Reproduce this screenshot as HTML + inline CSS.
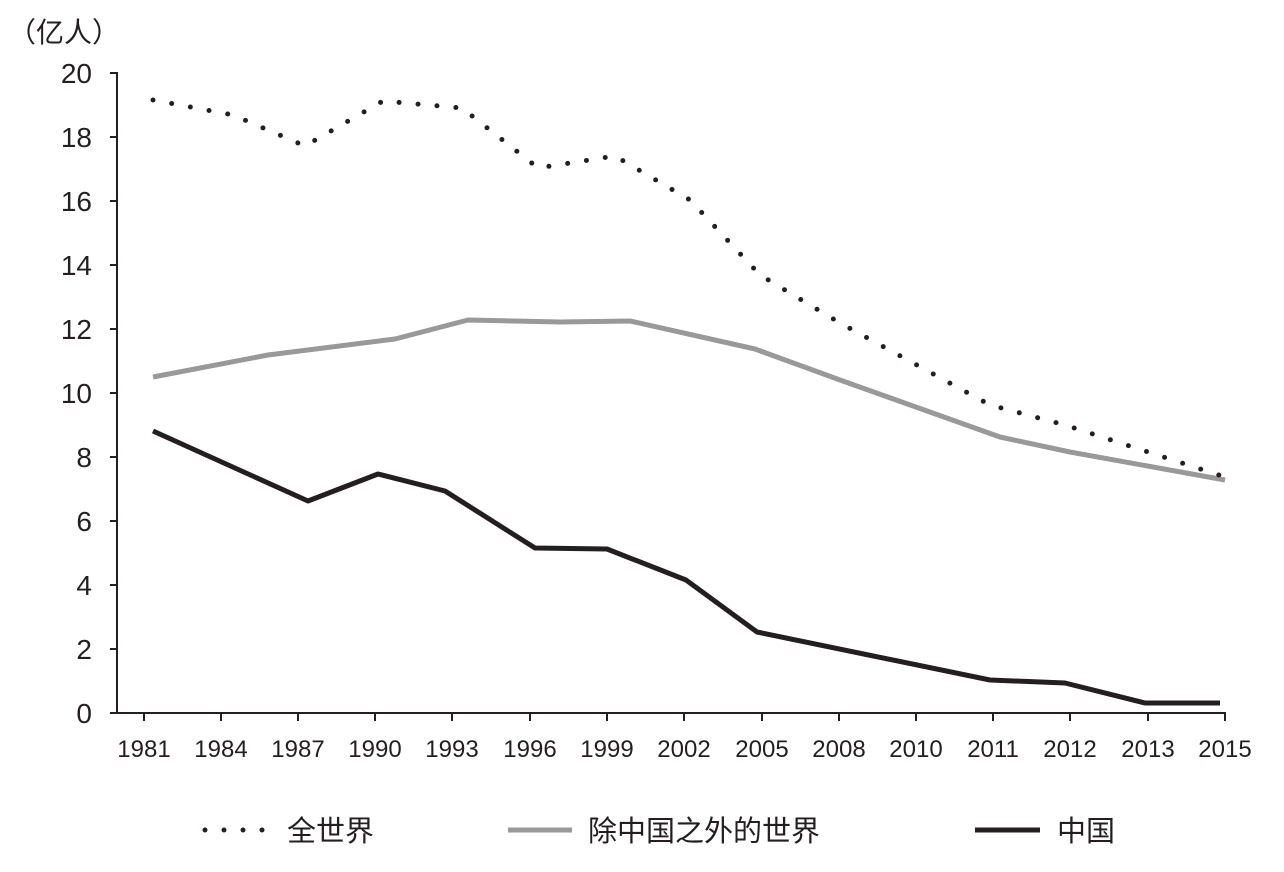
<!DOCTYPE html>
<html><head><meta charset="utf-8"><style>
body{margin:0;background:#fff;}
svg text{font-family:"Liberation Sans","Noto Sans CJK SC",sans-serif;fill:#231f20;}
</style></head><body>
<svg width="1284" height="867" viewBox="0 0 1284 867" xmlns="http://www.w3.org/2000/svg">
<text x="8" y="42" font-size="28">（亿人）</text>
<g stroke="#231f20" stroke-width="2" fill="none">
<line x1="117" y1="72" x2="117" y2="714"/>
<line x1="116" y1="713" x2="1226" y2="713"/>
<line x1="110" y1="73" x2="117" y2="73"/><line x1="110" y1="137" x2="117" y2="137"/>
<line x1="110" y1="201" x2="117" y2="201"/><line x1="110" y1="265" x2="117" y2="265"/>
<line x1="110" y1="329" x2="117" y2="329"/><line x1="110" y1="393" x2="117" y2="393"/>
<line x1="110" y1="457" x2="117" y2="457"/><line x1="110" y1="521" x2="117" y2="521"/>
<line x1="110" y1="585" x2="117" y2="585"/><line x1="110" y1="649" x2="117" y2="649"/>
<line x1="110" y1="713" x2="117" y2="713"/>
<line x1="144" y1="713" x2="144" y2="721"/><line x1="221" y1="713" x2="221" y2="721"/>
<line x1="298" y1="713" x2="298" y2="721"/><line x1="375" y1="713" x2="375" y2="721"/>
<line x1="452" y1="713" x2="452" y2="721"/><line x1="530" y1="713" x2="530" y2="721"/>
<line x1="607" y1="713" x2="607" y2="721"/><line x1="684" y1="713" x2="684" y2="721"/>
<line x1="762" y1="713" x2="762" y2="721"/><line x1="839" y1="713" x2="839" y2="721"/>
<line x1="916" y1="713" x2="916" y2="721"/><line x1="993" y1="713" x2="993" y2="721"/>
<line x1="1070" y1="713" x2="1070" y2="721"/><line x1="1148" y1="713" x2="1148" y2="721"/>
<line x1="1225" y1="713" x2="1225" y2="721"/>
</g>
<g font-size="28" text-anchor="end">
<text x="92" y="83">20</text><text x="92" y="147">18</text><text x="92" y="211">16</text>
<text x="92" y="275">14</text><text x="92" y="339">12</text><text x="92" y="403">10</text>
<text x="92" y="467">8</text><text x="92" y="531">6</text><text x="92" y="595">4</text>
<text x="92" y="659">2</text><text x="92" y="723">0</text>
</g>
<g font-size="24" text-anchor="middle">
<text x="144" y="757">1981</text><text x="221" y="757">1984</text><text x="298" y="757">1987</text>
<text x="375" y="757">1990</text><text x="452" y="757">1993</text><text x="530" y="757">1996</text>
<text x="607" y="757">1999</text><text x="684" y="757">2002</text><text x="762" y="757">2005</text>
<text x="839" y="757">2008</text><text x="916" y="757">2010</text><text x="993" y="757">2011</text>
<text x="1070" y="757">2012</text><text x="1148" y="757">2013</text><text x="1225" y="757">2015</text>
</g>
<polyline fill="none" stroke="#999" stroke-width="5" stroke-linejoin="round" points="153,377 268,355 395,339 468,320 560,322 630,321 755,349 840,380 1000,437 1070,452 1225,480"/>
<polyline fill="none" stroke="#231f20" stroke-width="5" stroke-linejoin="round" points="153,431 308,501 378,474 445,491 535,548 607,549 686,580 757,632 990,680 1065,683 1145,703 1220,703"/>
<polyline fill="none" stroke="#231f20" stroke-width="5" stroke-linecap="round" stroke-dasharray="0 19" points="153,100 233,115 305,146 383,101 462,108 538,168 615,156 690,200 760,275 840,323 990,405 1065,425 1225,477"/>
<line x1="205" y1="830" x2="270" y2="830" stroke="#231f20" stroke-width="5" stroke-linecap="round" stroke-dasharray="0 19"/>
<text x="287" y="841" font-size="29">全世界</text>
<line x1="508" y1="830" x2="572" y2="830" stroke="#999" stroke-width="5"/>
<text x="588" y="841" font-size="29">除中国之外的世界</text>
<line x1="975" y1="830" x2="1040" y2="830" stroke="#231f20" stroke-width="5"/>
<text x="1057" y="841" font-size="29">中国</text>
</svg>
</body></html>
